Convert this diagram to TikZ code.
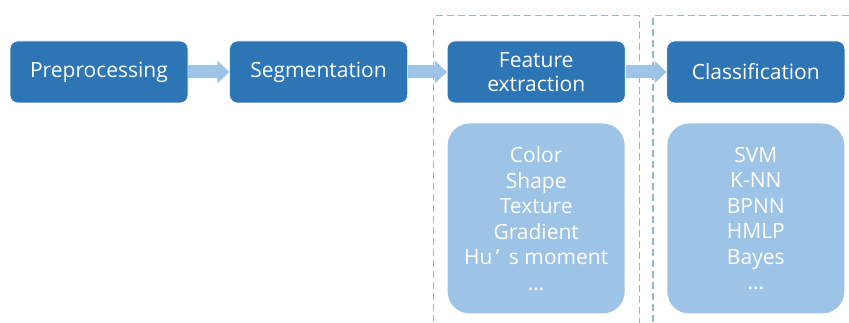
\documentclass[tikz,border=0pt]{standalone}
\usepackage{fontspec}
\setmainfont{Open Sans}
\usetikzlibrary{arrows.meta,positioning,calc}
\definecolor{stepblue}{HTML}{2E75B6}
\definecolor{paleblue}{HTML}{9DC3E6}

\begin{document}
\begin{tikzpicture}[x=1pt,y=1pt,node distance=42pt]
  \tikzstyle{stage}=[draw=white,line width=0.6pt,fill=stepblue,rounded corners=8pt,minimum width=178pt,minimum height=62pt,align=center,text=white,font=\fontsize{21}{24}\selectfont]
  \tikzstyle{methods}=[fill=paleblue,rounded corners=22pt,minimum width=177pt,minimum height=190pt,align=center,text=white,font=\fontsize{21}{25.5}\selectfont]
  \tikzstyle{flow}=[paleblue,line width=13pt,-{Triangle[width=22pt,length=12pt]}]
  \tikzstyle{group}=[paleblue!85!stepblue,line width=1.5pt,dash pattern=on 7pt off 4pt]
  \clip (0,0) rectangle (849,323);
  \useasboundingbox (0,0) rectangle (849,323);
  \node[stage] (pre) at (99,251) {Preprocessing};
  \node[stage,right=41pt of pre] (seg) {Segmentation};
  \node[stage,right=39pt of seg] (feat) {Feature\\extraction};
  \node[stage,right=41pt of feat] (cls) {Classification};
  \node[methods,below=20pt of feat] (featlist) {Color\\Shape\\Texture\\Gradient\\Hu\,’\hspace{0.45em}s moment\\…};
  \node[methods,below=20pt of cls] (clslist) {SVM\\K-NN\\BPNN\\HMLP\\Bayes\\…};
  % dashed groups
  \draw[group] ($(featlist.south west)+(-14,-30)$) rectangle ($(feat.north east)+(14,25)$);
  \draw[group] ($(clslist.south west)+(-14,-30)$) rectangle ($(cls.north east)+(14,25)$);
  \draw[flow] (pre) -- (seg);
  \draw[flow] (seg) -- (feat);
  \draw[flow] (feat) -- (cls);
\end{tikzpicture}
\end{document}
